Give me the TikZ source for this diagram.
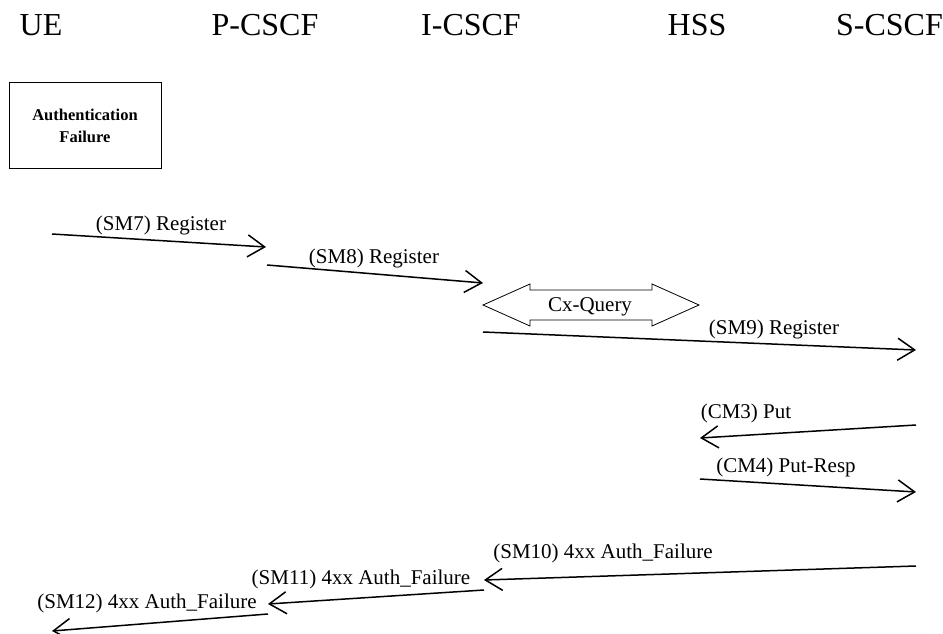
\documentclass[tikz,border=0pt]{standalone}
\usepackage{fontspec}
\setmainfont{Liberation Serif}
\usetikzlibrary{arrows.meta}

\begin{document}
\begin{tikzpicture}[x=1pt, y=-1pt,
  entity/.style={anchor=base, inner sep=0pt, font=\fontsize{32}{36}\selectfont},
  msglabel/.style={anchor=base, inner sep=0pt, font=\fontsize{21}{24}\selectfont},
  msg/.style={line width=1.5pt, -{Straight Barb[length=17pt, width=22pt]}}]

\useasboundingbox (0,0) rectangle (943,634);

% entities
\node[entity] (ue) at (41,36) {UE};
\node[entity] (pcscf) at (265,36) {P-CSCF};
\node[entity] (icscf) at (471,36) {I-CSCF};
\node[entity] (hss) at (697,36) {HSS};
\node[entity] (scscf) at (889.5,36) {S-CSCF};

\node[draw, line width=0.8pt, minimum width=152pt, minimum height=86pt,
      align=center, font=\bfseries\fontsize{16.5}{22}\selectfont] (authfail) at (85,125.5) {
Authentication\\
Failure
};

% message end points
\coordinate (sm7a) at (52,234);
\coordinate (sm7b) at (266,247);
\coordinate (sm8a) at (267,265);
\coordinate (sm8b) at (483,283);
\coordinate (sm9a) at (483,332);
\coordinate (sm9b) at (916,350);
\coordinate (cm3a) at (916,425);
\coordinate (cm3b) at (700,438);
\coordinate (cm4a) at (700,479);
\coordinate (cm4b) at (916,492);
\coordinate (sm10a) at (916,566);
\coordinate (sm10b) at (484,580);
\coordinate (sm11a) at (484,590);
\coordinate (sm11b) at (268,604);
\coordinate (sm12a) at (268,614);
\coordinate (sm12b) at (52,631);

% Cx-Query double arrow
\draw[line width=0.8pt] (483,305) -- (530,284) -- (530,290) -- (652,290) -- (652,284)
  -- (699,305) -- (652,326) -- (652,320) -- (530,320) -- (530,326) -- cycle;
\node[msglabel] (cxquery) at (590,311) {Cx-Query};

% labels
\node[msglabel] (sm7) at (161,230) {(SM7) Register};
\node[msglabel] (sm8) at (374,263) {(SM8) Register};
\node[msglabel] (sm9) at (774,334) {(SM9) Register};
\node[msglabel] (cm3) at (746,418) {(CM3) Put};
\node[msglabel] (cm4) at (786,472) {(CM4) Put-Resp};
\node[msglabel] (sm10) at (603,558) {(SM10) 4xx Auth\_Failure};
\node[msglabel] (sm11) at (361,584) {(SM11) 4xx Auth\_Failure};
\node[msglabel] (sm12) at (147,608) {(SM12) 4xx Auth\_Failure};

% messages
\draw[msg] (sm7a) -- (sm7b);
\draw[msg] (sm8a) -- (sm8b);
\draw[msg] (sm9a) -- (sm9b);
\draw[msg] (cm3a) -- (cm3b);
\draw[msg] (cm4a) -- (cm4b);
\draw[msg] (sm10a) -- (sm10b);
\draw[msg] (sm11a) -- (sm11b);
\draw[msg] (sm12a) -- (sm12b);

\end{tikzpicture}
\end{document}
